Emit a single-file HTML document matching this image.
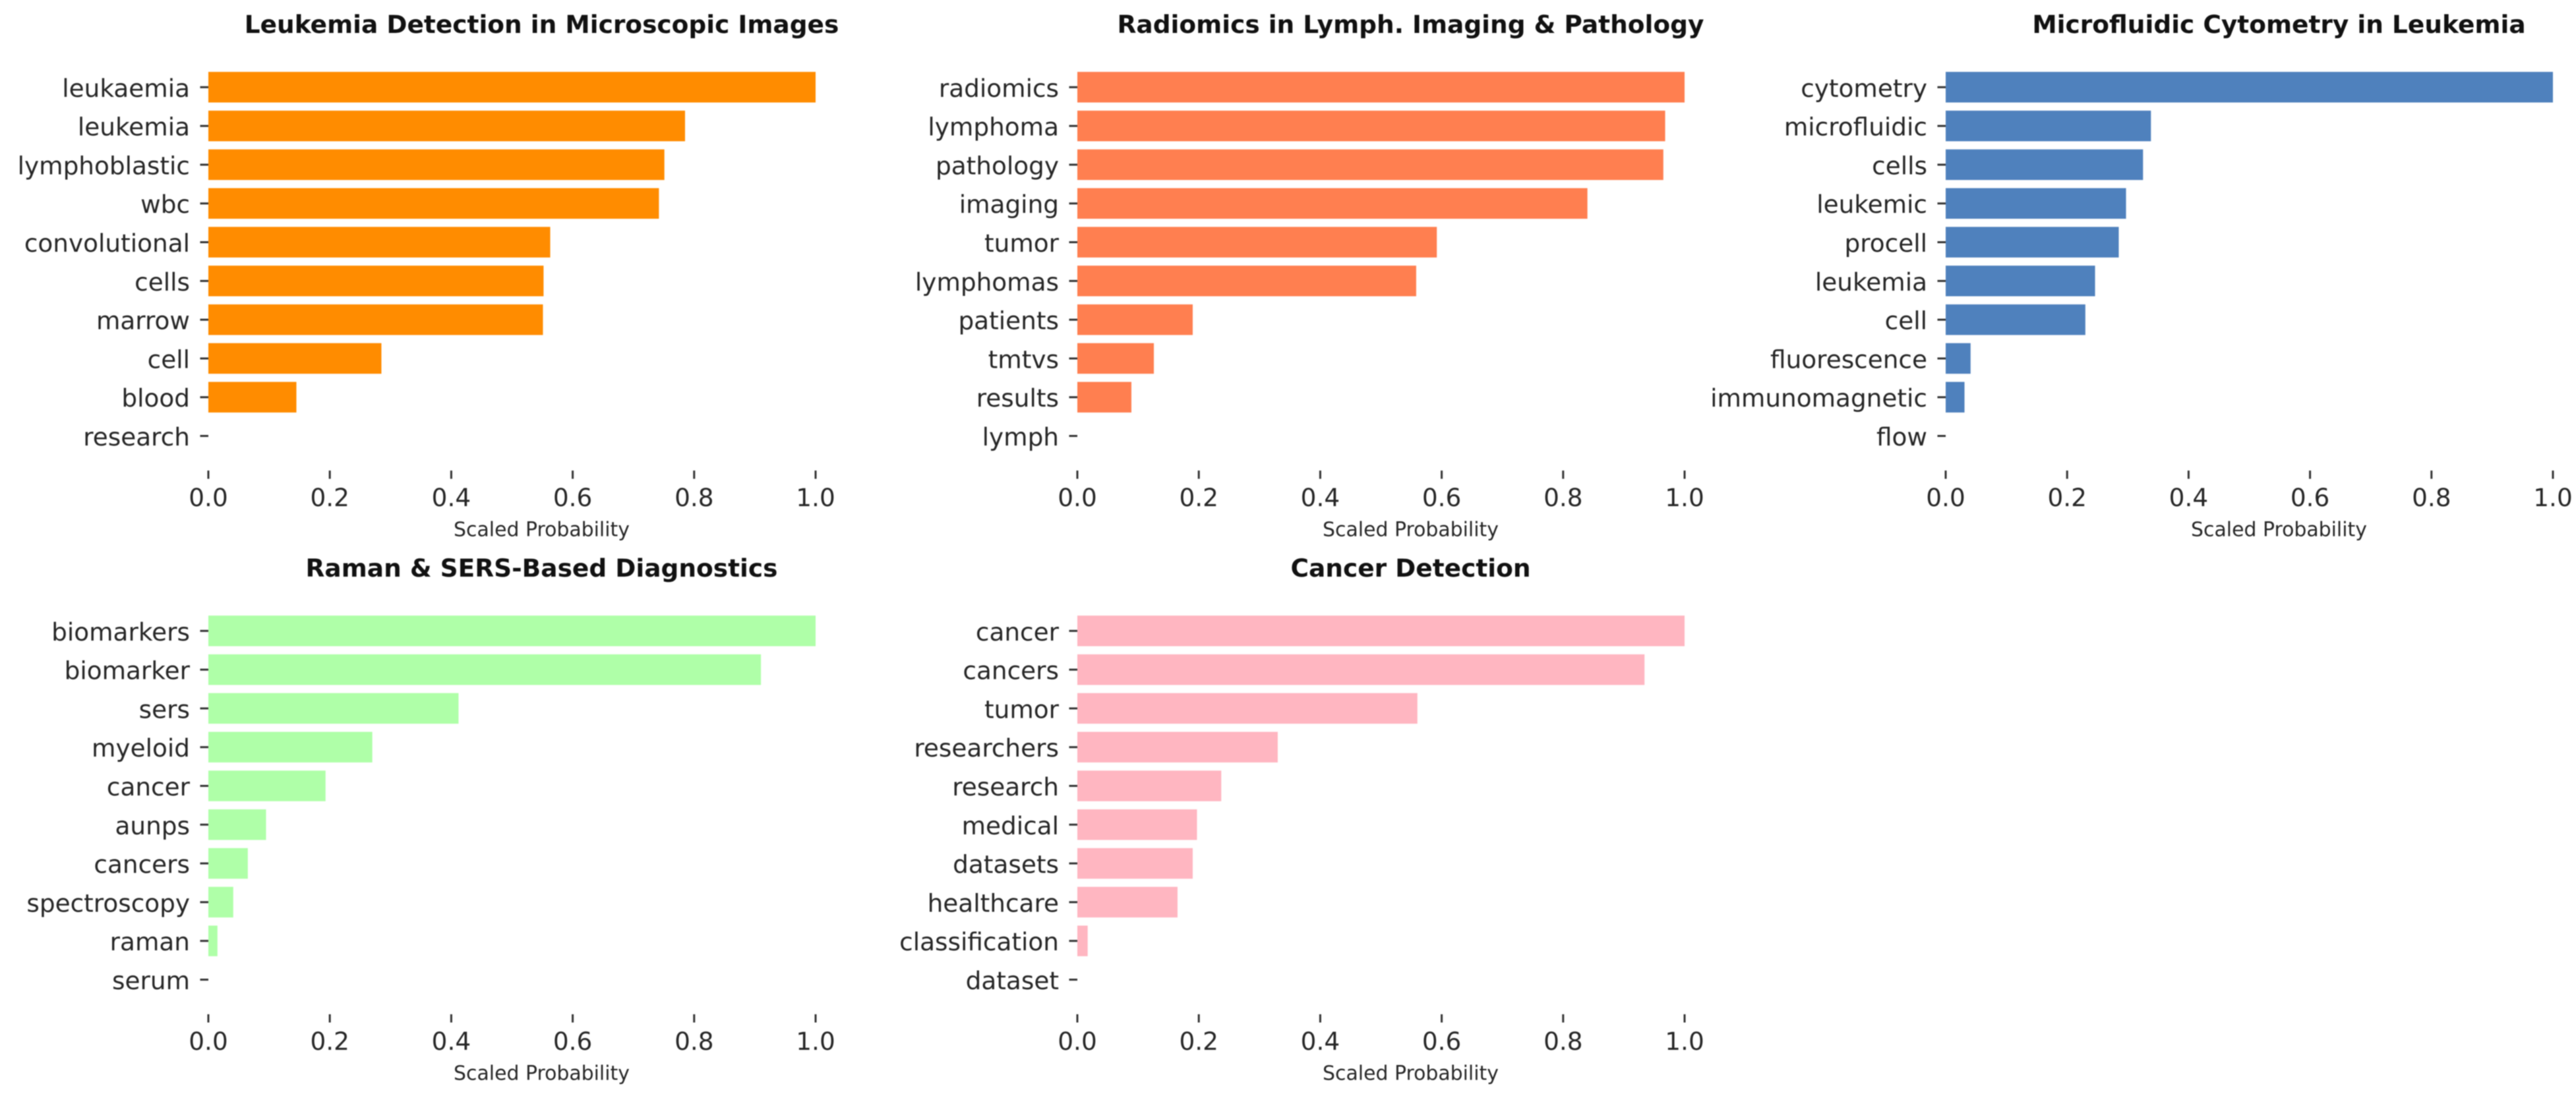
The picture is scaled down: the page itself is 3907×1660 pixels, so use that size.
<!DOCTYPE html>
<html lang="en">
<head>
<meta charset="utf-8">
<title>Topic keyword probabilities</title>
<style>
html,body{margin:0;padding:0;background:#fff;width:3907px;height:1660px;overflow:hidden}
svg{display:block;filter:blur(0.8px)}
text{font-family:"DejaVu Sans","Liberation Sans",sans-serif;fill:#262626}
.tick-y,.tick-x{font-size:37.4px}
.axis-title{font-size:29.9px}
.panel-title{font-size:37.5px;font-weight:700;fill:#111}
</style>
</head>
<body>
<svg id="chart" xmlns="http://www.w3.org/2000/svg" width="3907" height="1660" viewBox="0 0 3907 1660"></svg>
<script>
const xTickValues = [0, 0.2, 0.4, 0.6, 0.8, 1.0];
const xTickLabels = ["0.0", "0.2", "0.4", "0.6", "0.8", "1.0"];
const xAxisLabel = "Scaled Probability";

const titleLeukemia = "Leukemia Detection in Microscopic Images";
const termsLeukemia = ["leukaemia", "leukemia", "lymphoblastic", "wbc", "convolutional", "cells", "marrow", "cell", "blood", "research"];
const valuesLeukemia = [1, 0.785, 0.751, 0.742, 0.563, 0.552, 0.551, 0.285, 0.145, 0];

const titleRadiomics = "Radiomics in Lymph. Imaging & Pathology";
const termsRadiomics = ["radiomics", "lymphoma", "pathology", "imaging", "tumor", "lymphomas", "patients", "tmtvs", "results", "lymph"];
const valuesRadiomics = [1, 0.968, 0.965, 0.84, 0.592, 0.558, 0.19, 0.126, 0.089, 0];

const titleCytometry = "Microfluidic Cytometry in Leukemia";
const termsCytometry = ["cytometry", "microfluidic", "cells", "leukemic", "procell", "leukemia", "cell", "fluorescence", "immunomagnetic", "flow"];
const valuesCytometry = [1, 0.338, 0.325, 0.297, 0.285, 0.246, 0.23, 0.041, 0.031, 0];

const titleRaman = "Raman & SERS-Based Diagnostics";
const termsRaman = ["biomarkers", "biomarker", "sers", "myeloid", "cancer", "aunps", "cancers", "spectroscopy", "raman", "serum"];
const valuesRaman = [1, 0.91, 0.412, 0.27, 0.193, 0.095, 0.065, 0.041, 0.015, 0];

const titleCancer = "Cancer Detection";
const termsCancer = ["cancer", "cancers", "tumor", "researchers", "research", "medical", "datasets", "healthcare", "classification", "dataset"];
const valuesCancer = [1, 0.934, 0.56, 0.33, 0.237, 0.197, 0.19, 0.165, 0.017, 0];

const SVG_NS = "http://www.w3.org/2000/svg";
const root = document.getElementById("chart");

function make(tag, attrs, parent, txt) {
  const el = document.createElementNS(SVG_NS, tag);
  for (const k in attrs) el.setAttribute(k, attrs[k]);
  if (txt !== undefined) el.textContent = txt;
  parent.appendChild(el);
  return el;
}

function drawPanel(title, terms, values, color, left, right, top) {
  const xScale = v => left + v * (right - left);
  const firstY = top + 132.3;
  const stepY = 58.8;
  const yScale = i => firstY + i * stepY;
  const barH = stepY * 0.79;
  const tickColor = "#333";
  const textCenter = (left + right) / 2 + 45;

  const g = make("g", {}, root);
  
  

  const t = make("text", {x: textCenter, y: top + 50, "text-anchor": "middle", class: "panel-title"}, g, title);
  
  

  terms.forEach((term, i) => {
    const cy = yScale(i);
    const bar = make("rect", {x: xScale(0), y: cy - barH / 2, width: xScale(values[i]) - xScale(0), height: barH, fill: color}, g);
    
    

    const tick = make("line", {x1: xScale(0) - 12.5, x2: xScale(0), y1: cy, y2: cy, stroke: tickColor, "stroke-width": 3}, g);
    
    

    const lab = make("text", {x: xScale(0) - 28, y: cy + 14.5, "text-anchor": "end", class: "tick-y"}, g, term);
    
    
  });

  xTickValues.forEach((v, i) => {
    const x = xScale(v);
    const tick = make("line", {x1: x, x2: x, y1: top + 714, y2: top + 726.5, stroke: tickColor, "stroke-width": 3}, g);
    
    

    const lab = make("text", {x: x, y: top + 768, "text-anchor": "middle", class: "tick-x"}, g, xTickLabels[i]);
    
    
  });

  const axisT = make("text", {x: textCenter, y: top + 813.5, "text-anchor": "middle", class: "axis-title"}, g, xAxisLabel);
  
  
}

drawPanel(titleLeukemia, termsLeukemia, valuesLeukemia, "#ff8c00", 316, 1237, 0);
drawPanel(titleRadiomics, termsRadiomics, valuesRadiomics, "#ff7f50", 1634, 2555, 0);
drawPanel(titleCytometry, termsCytometry, valuesCytometry, "#4f81bd", 2951, 3872, 0);
drawPanel(titleRaman, termsRaman, valuesRaman, "#afffa8", 316, 1237, 825);
drawPanel(titleCancer, termsCancer, valuesCancer, "#ffb6c1", 1634, 2555, 825);
</script>
</body>
</html>
